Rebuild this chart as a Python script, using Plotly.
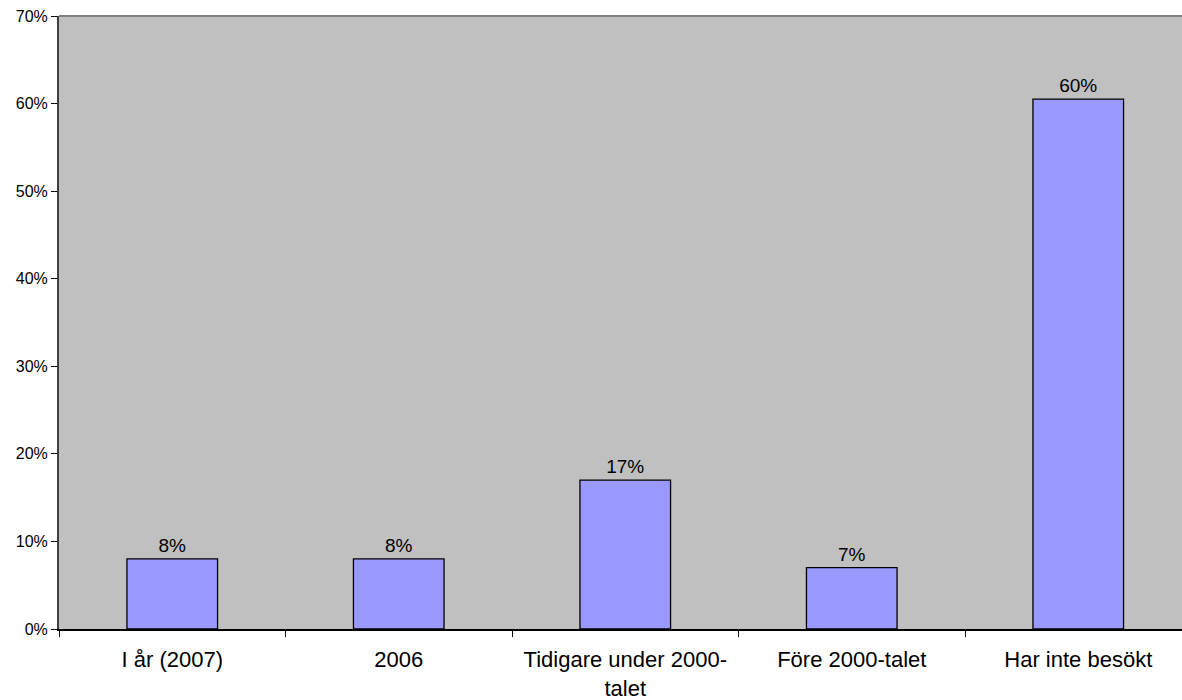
import plotly.graph_objects as go

categories = ["I år (2007)", "2006", "Tidigare under 2000-<br>talet", "Före 2000-talet", "Har inte besökt"]
values = [0.08, 0.08, 0.17, 0.07, 0.605]
labels = ["8%", "8%", "17%", "7%", "60%"]
y_ticks = [0, 0.1, 0.2, 0.3, 0.4, 0.5, 0.6, 0.7]
y_tick_labels = ["0%", "10%", "20%", "30%", "40%", "50%", "60%", "70%"]

fig = go.Figure(
    go.Bar(
        x=categories,
        y=values,
        text=labels,
        textposition="outside",
        cliponaxis=False,
        textfont=dict(size=19, color="black"),
        marker=dict(color="#9999FF", line=dict(color="black", width=1.3)),
        width=0.4,
    )
)

fig.update_layout(
    width=1182,
    height=700,
    margin=dict(l=59, r=0, t=16, b=71, autoexpand=False),
    paper_bgcolor="white",
    plot_bgcolor="#C0C0C0",
    font=dict(family="Liberation Sans, Arial, sans-serif", color="black"),
    showlegend=False,
)

# the last category runs past the right edge of the picture
fig.update_xaxes(
    range=[-0.5, 4.458],
    tickson="boundaries",
    ticks="outside",
    ticklen=6,
    tickcolor="black",
    showline=True,
    linecolor="black",
    linewidth=1.5,
    showgrid=False,
    tickfont=dict(size=22),
    ticklabelstandoff=10,
    ticklabeloverflow="allow",
    automargin=False,
)

fig.update_yaxes(
    range=[0, 0.7],
    tickvals=y_ticks,
    ticktext=y_tick_labels,
    ticks="outside",
    ticklen=6,
    tickcolor="black",
    showline=True,
    linecolor="#404040",
    linewidth=2,
    showgrid=False,
    zeroline=False,
    tickfont=dict(size=16),
    ticklabeloverflow="allow",
    automargin=False,
)

fig.add_shape(
    type="line", xref="paper", yref="paper",
    x0=0, x1=1, y0=1, y1=1,
    line=dict(color="#808080", width=2),
)

# drop the page margin and scrollbars so the figure sits at 0,0
page_fix = (
    "document.body.style.margin='0';"
    "document.documentElement.style.overflow='hidden';"
)

fig.write_html("out.html", post_script=page_fix, config={"displayModeBar": False})
